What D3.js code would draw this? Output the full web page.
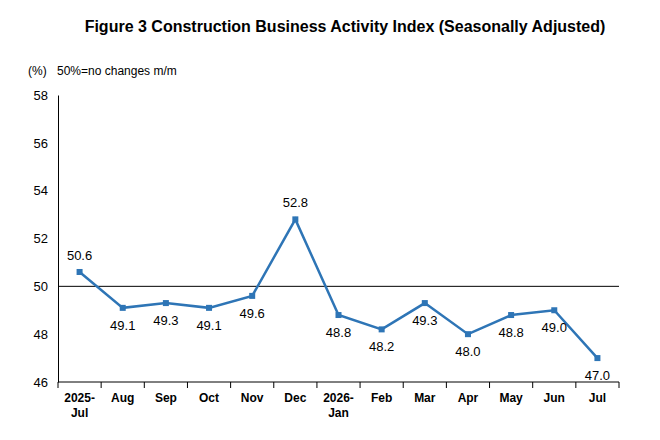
<!DOCTYPE html>
<html><head><meta charset="utf-8">
<script src="https://cdn.jsdelivr.net/npm/d3@7"></script>
<style>body{margin:0;background:#fff;font-family:Arial,"Liberation Sans",sans-serif}</style>
</head><body><div id="chart"></div>
<script>
var months = ["2025-\nJul","Aug","Sep","Oct","Nov","Dec","2026-\nJan","Feb","Mar","Apr","May","Jun","Jul"];
var values = [50.6,49.1,49.3,49.1,49.6,52.8,48.8,48.2,49.3,48.0,48.8,49.0,47.0];
var above = [true,false,false,false,false,true,false,false,false,false,false,false,false];
var yTicks = [46,48,50,52,54,56,58];

var W = 660, H = 440;
var svg = d3.select("#chart").append("svg").attr("width", W).attr("height", H);

svg.append("text").attr("x", 345).attr("y", 32).attr("text-anchor","middle")
  .style("font-size","16px").style("font-weight","bold")
  .text("Figure 3 Construction Business Activity Index (Seasonally Adjusted)");
svg.append("text").attr("x", 28).attr("y", 75).style("font-size","12px").text("(%)");
svg.append("text").attr("x", 57).attr("y", 75).style("font-size","12px").text("50%=no changes m/m");

var x = d3.scaleBand().domain(d3.range(months.length)).range([58, 619]);
var y = d3.scaleLinear().domain([46, 58]).range([382, 95]);

// y axis
var ya = svg.append("g").attr("transform","translate(58,0)")
  .call(d3.axisLeft(y).tickValues(yTicks).tickSize(0).tickPadding(10));
ya.select(".domain").attr("stroke","#000");
ya.selectAll("text").style("font-size","13px").style("font-family","Arial,'Liberation Sans',sans-serif").attr("fill","#000");

// x axis
svg.append("line").attr("x1",58).attr("x2",619).attr("y1",y(46)).attr("y2",y(46)).attr("stroke","#000");
d3.range(months.length + 1).forEach(function(i){
  var xx = i < months.length ? x(i) : x.range()[1];
  svg.append("line").attr("x1",xx).attr("x2",xx).attr("y1",y(46)).attr("y2",y(46)+6).attr("stroke","#000");
});
months.forEach(function(m, i){
  var t = svg.append("text").attr("text-anchor","middle").style("font-size","12px").style("font-weight","bold");
  m.split("\n").forEach(function(p, j){
    t.append("tspan").attr("x", x(i) + x.bandwidth()/2).attr("y", 402 + j*15).text(p);
  });
});

// 50 line
svg.append("line").attr("x1",58).attr("x2",619).attr("y1",y(50)).attr("y2",y(50)).attr("stroke","#000");

var cx = function(d, i){ return x(i) + x.bandwidth()/2; };
svg.append("path").datum(values)
  .attr("d", d3.line().x(cx).y(function(d){ return y(d); }))
  .attr("fill","none").attr("stroke","#2e75b6").attr("stroke-width",2.5);
svg.selectAll("rect.m").data(values).enter().append("rect")
  .attr("x", function(d,i){ return cx(d,i) - 3; }).attr("y", function(d){ return y(d) - 3; })
  .attr("width",6).attr("height",6).attr("fill","#2e75b6");
svg.selectAll("text.v").data(values).enter().append("text")
  .attr("x", cx).attr("y", function(d,i){ return above[i] ? y(d) - 12 : y(d) + 22; })
  .attr("text-anchor","middle").style("font-size","13px")
  .text(function(d){ return d.toFixed(1); });
</script></body></html>
